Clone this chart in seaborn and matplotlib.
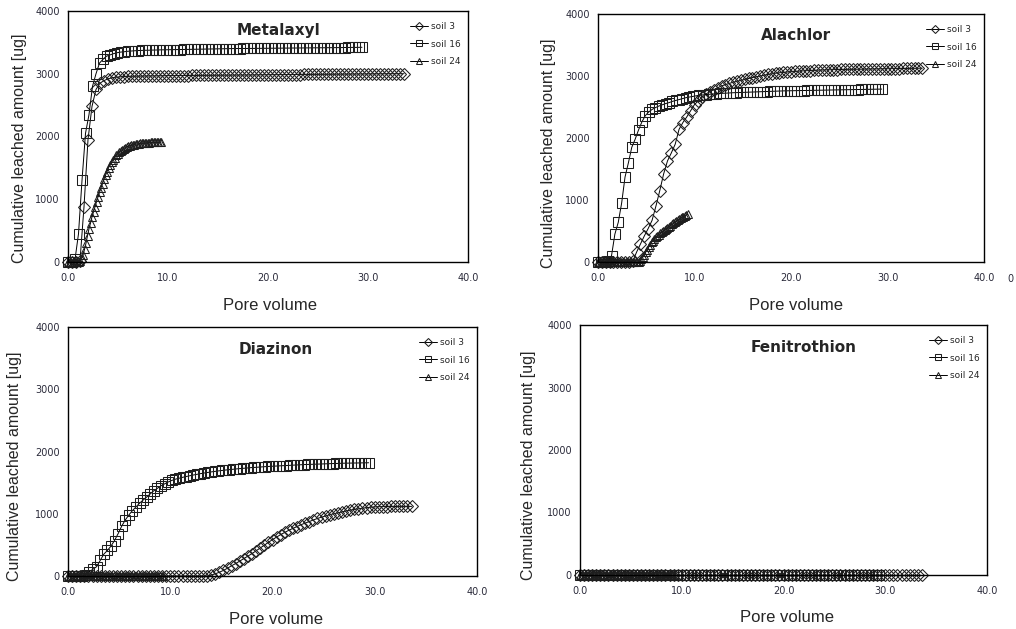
import matplotlib
matplotlib.use("Agg")
import matplotlib.pyplot as plt
import seaborn as sns

# pore volume of each leachate fraction
x_soil3 = [0.0, 0.4, 0.8, 1.2, 1.6, 2.0, 2.4, 2.8, 3.2, 3.6, 4.0, 4.4, 4.8, 5.2, 5.6, 6.0, 6.4, 6.8, 7.2, 7.6,
           8.0, 8.4, 8.8, 9.2, 9.6, 10.0, 10.4, 10.8, 11.2, 11.6, 12.0, 12.4, 12.8, 13.2, 13.6, 14.0, 14.4, 14.8,
           15.2, 15.6, 16.0, 16.4, 16.8, 17.2, 17.6, 18.0, 18.4, 18.8, 19.2, 19.6, 20.0, 20.4, 20.8, 21.2, 21.6,
           22.0, 22.4, 22.8, 23.2, 23.6, 24.0, 24.4, 24.8, 25.2, 25.6, 26.0, 26.4, 26.8, 27.2, 27.6, 28.0, 28.4,
           28.8, 29.2, 29.6, 30.0, 30.4, 30.8, 31.2, 31.6, 32.0, 32.4, 32.8, 33.2, 33.6]
x_soil16 = [0.0, 0.35, 0.7, 1.05, 1.4, 1.75, 2.1, 2.45, 2.8, 3.15, 3.5, 3.85, 4.2, 4.55, 4.9, 5.25, 5.6, 5.95,
            6.3, 6.65, 7.0, 7.35, 7.7, 8.05, 8.4, 8.75, 9.1, 9.45, 9.8, 10.15, 10.5, 10.85, 11.2, 11.55, 11.9,
            12.25, 12.6, 12.95, 13.3, 13.65, 14.0, 14.35, 14.7, 15.05, 15.4, 15.75, 16.1, 16.45, 16.8, 17.15,
            17.5, 17.85, 18.2, 18.55, 18.9, 19.25, 19.6, 19.95, 20.3, 20.65, 21.0, 21.35, 21.7, 22.05, 22.4,
            22.75, 23.1, 23.45, 23.8, 24.15, 24.5, 24.85, 25.2, 25.55, 25.9, 26.25, 26.6, 26.95, 27.3, 27.65,
            28.0, 28.35, 28.7, 29.05, 29.4]
x_soil24 = [0.0, 0.15, 0.3, 0.45, 0.6, 0.75, 0.9, 1.05, 1.2, 1.35, 1.5, 1.65, 1.8, 1.95, 2.1, 2.25, 2.4, 2.55,
            2.7, 2.85, 3.0, 3.15, 3.3, 3.45, 3.6, 3.75, 3.9, 4.05, 4.2, 4.35, 4.5, 4.65, 4.8, 4.95, 5.1, 5.25,
            5.4, 5.55, 5.7, 5.85, 6.0, 6.15, 6.3, 6.45, 6.6, 6.75, 6.9, 7.05, 7.2, 7.35, 7.5, 7.65, 7.8, 7.95,
            8.1, 8.25, 8.4, 8.55, 8.7, 8.85, 9.0, 9.15, 9.3]

# Metalaxyl
met_soil3 = [0, 0, 0, 20, 880, 1950, 2480, 2750, 2850, 2890, 2920, 2935, 2945, 2950, 2955, 2958,
             2960, 2961, 2962, 2963, 2964, 2965, 2966, 2967, 2968, 2970,
             2970, 2971, 2971, 2972, 2972, 2973, 2973, 2974, 2974, 2975, 2975, 2976, 2976, 2977, 2977, 2978,
             2978, 2979, 2979, 2980, 2980, 2981, 2982, 2983, 2984,
             2985, 2985, 2986, 2986, 2987, 2987, 2988, 2988, 2989, 2989, 2990, 2990, 2991, 2991, 2992, 2992,
             2993, 2993, 2994, 2994, 2995, 2995, 2996, 2996, 2997, 2997, 2998, 2998, 2999, 2999, 3000, 3000,
             3000, 3000]
met_soil16 = [0, 0, 40, 450, 1300, 2050, 2350, 2800, 3000, 3170, 3230, 3280, 3300, 3320, 3335, 3345, 3350,
              3358, 3362, 3366, 3370,
              3372, 3374, 3375, 3377, 3378, 3380, 3381, 3382, 3383, 3384, 3385, 3386, 3387, 3388, 3389, 3390,
              3391, 3392, 3393, 3394, 3395, 3396, 3397, 3398, 3399, 3400, 3401,
              3402, 3402, 3403, 3403, 3404, 3404, 3405, 3405, 3406, 3406, 3407, 3407, 3408, 3408, 3409, 3409,
              3410, 3410, 3411, 3411, 3412, 3412, 3413, 3413, 3414, 3414, 3415, 3415, 3416, 3416,
              3417, 3418, 3419, 3420, 3420, 3421, 3422]
met_soil24 = [0, 0, 0, 0, 0, 0, 0, 0, 20, 60, 110, 200, 300, 420, 530, 620, 720, 800, 880, 960, 1040, 1110,
              1180, 1250, 1320, 1380, 1440, 1500, 1550, 1590, 1630, 1665, 1700, 1725, 1750, 1770, 1790, 1805,
              1820, 1832, 1843, 1852, 1860, 1866, 1872, 1877, 1882, 1886, 1890, 1893, 1896, 1898, 1900, 1902,
              1904, 1905, 1906, 1907, 1908, 1909, 1910, 1910, 1910]

# Alachlor
ala_soil3 = [0, 0, 0, 0, 0, 0, 0, 0, 0, 10,
             160, 290, 420, 540, 670, 900, 1150, 1420, 1630, 1760, 1900, 2140, 2250, 2340, 2440, 2540, 2600,
             2660, 2710, 2750, 2780, 2810, 2840, 2860, 2880, 2900, 2915, 2930, 2945, 2960, 2975, 2988, 3000,
             3012, 3025, 3035, 3045, 3052, 3058, 3064, 3070, 3074, 3078, 3082, 3085, 3088, 3091, 3094, 3096,
             3098, 3100, 3102, 3104, 3105, 3106, 3107, 3108, 3109, 3110, 3111, 3112, 3113, 3114, 3115, 3116,
             3117, 3118, 3119, 3120, 3121, 3122, 3123, 3124, 3125, 3126]
ala_soil16 = [0, 0, 0, 20, 100, 450, 640, 950, 1370, 1600, 1850, 1980, 2130, 2260, 2360, 2420, 2460, 2490,
              2515, 2535, 2555, 2570, 2590, 2605, 2620, 2635, 2650, 2660, 2670, 2680, 2688, 2695, 2700, 2705,
              2710, 2714, 2718, 2721, 2724, 2727, 2730, 2732, 2734, 2736, 2738, 2740, 2742, 2744, 2746, 2748,
              2750, 2752, 2754, 2756, 2758, 2760, 2761, 2762, 2763, 2764, 2765, 2766, 2767, 2768, 2769, 2770,
              2771, 2772, 2773, 2774, 2775, 2776, 2777, 2778, 2779, 2780, 2781, 2782, 2783, 2784, 2785, 2786,
              2787, 2788, 2789]
ala_soil24 = [0, 0, 0, 0, 0, 0, 0, 0, 0, 0, 0, 0, 0, 0, 0, 0, 0, 0, 0, 0, 0, 0, 0, 0, 0, 0, 0, 0, 0,
              20, 50, 80, 120, 160, 200, 240, 280, 315, 345, 375, 400, 420, 440, 460, 480, 500, 518, 535, 552,
              570, 588, 605, 622, 640, 656, 672, 688, 703, 718, 732, 746, 758, 770]

# Diazinon
dia_soil3 = [0, 0, 0, 0, 0, 0, 0, 0, 0, 0, 0, 0, 0, 0, 0, 0, 0, 0, 0, 0, 0, 0, 0, 0, 0, 0, 0, 0, 0, 0,
             0, 0, 0, 0, 0,
             15, 35, 60, 90, 125, 165, 200, 240, 280, 320, 360, 405, 450, 495, 540, 585, 625, 665, 700, 735,
             765, 795, 825, 850, 875, 900, 925, 945, 965, 985, 1000, 1015, 1030, 1045, 1058, 1070, 1080, 1090,
             1098, 1105, 1110, 1113, 1115, 1116, 1117, 1117, 1118, 1118, 1118, 1118]
dia_soil16 = [0, 0, 0, 0, 0, 20, 70, 110, 150, 250, 350, 410, 480, 570, 680, 800, 900, 980, 1050, 1110, 1170,
              1220, 1270, 1320, 1370, 1410, 1450, 1480, 1510, 1535, 1555, 1570, 1585, 1598, 1610, 1622, 1633,
              1644, 1654, 1663, 1672, 1680, 1688, 1695, 1702, 1708, 1714, 1720, 1725, 1730, 1735, 1740, 1744,
              1748, 1752, 1756, 1760, 1763, 1766, 1769, 1772, 1775, 1778, 1781, 1784, 1787, 1790, 1792, 1794,
              1796, 1798, 1800, 1802, 1804, 1806, 1808, 1810, 1812, 1813, 1814, 1815, 1816, 1817, 1818, 1819]
dia_soil24 = [0, 0, 0, 0, 0, 0, 0, 0, 0, 0, 0, 0, 0, 0, 0, 0, 0, 0, 0, 0, 0, 0, 0, 0, 0, 0, 0, 0, 0, 0,
              0, 0, 0, 0, 0, 0, 0, 0, 0, 0, 0, 0, 0, 0, 0, 0, 0, 0, 0, 0, 0, 0, 0, 0, 0, 0, 0, 0, 0, 0,
              0, 0, 0]

# Fenitrothion (nothing leached)
fen_soil3 = [0, 0, 0, 0, 0, 0, 0, 0, 0, 0, 0, 0, 0, 0, 0, 0, 0, 0, 0, 0, 0, 0, 0, 0, 0, 0, 0, 0, 0, 0,
             0, 0, 0, 0, 0, 0, 0, 0, 0, 0, 0, 0, 0, 0, 0, 0, 0, 0, 0, 0, 0, 0, 0, 0, 0, 0, 0, 0, 0, 0,
             0, 0, 0, 0, 0, 0, 0, 0, 0, 0, 0, 0, 0, 0, 0, 0, 0, 0, 0, 0, 0, 0, 0, 0, 0]
fen_soil16 = [0, 0, 0, 0, 0, 0, 0, 0, 0, 0, 0, 0, 0, 0, 0, 0, 0, 0, 0, 0, 0, 0, 0, 0, 0, 0, 0, 0, 0, 0,
              0, 0, 0, 0, 0, 0, 0, 0, 0, 0, 0, 0, 0, 0, 0, 0, 0, 0, 0, 0, 0, 0, 0, 0, 0, 0, 0, 0, 0, 0,
              0, 0, 0, 0, 0, 0, 0, 0, 0, 0, 0, 0, 0, 0, 0, 0, 0, 0, 0, 0, 0, 0, 0, 0, 0]
fen_soil24 = [0, 0, 0, 0, 0, 0, 0, 0, 0, 0, 0, 0, 0, 0, 0, 0, 0, 0, 0, 0, 0, 0, 0, 0, 0, 0, 0, 0, 0, 0,
              0, 0, 0, 0, 0, 0, 0, 0, 0, 0, 0, 0, 0, 0, 0, 0, 0, 0, 0, 0, 0, 0, 0, 0, 0, 0, 0, 0, 0, 0,
              0, 0, 0]

pesticides = ["Metalaxyl", "Alachlor", "Diazinon", "Fenitrothion"]
soil_labels = ["soil 3", "soil 16", "soil 24"]
x_ticks = [0, 10, 20, 30, 40]
y_ticks = [0, 1000, 2000, 3000, 4000]

W, H = 1016, 629

# layout in pixels: axes box (left, top, right, bottom), title centre, ylabel centre x, xlabel centre
layout = [
    dict(box=(68, 11, 468, 262), title=(278, 31), ylab=(20, 148), xlab=(270, 305)),
    dict(box=(598, 14, 984, 262), title=(796, 36), ylab=(548, 153), xlab=(796, 305)),
    dict(box=(68, 327, 477, 576), title=(276, 350), ylab=(15, 466), xlab=(276, 619)),
    dict(box=(580, 325, 987, 575), title=(804, 347), ylab=(528, 465), xlab=(787, 617)),
]

sns.set_style("white")
plt.rcParams['font.family'] = ['Liberation Sans', 'DejaVu Sans']


def fx(x):
    return x / W


def fy(y):
    return 1 - y / H


def draw_panel(ax, title, lay, y3, y16, y24):
    style = dict(color="black", linewidth=0.7, markerfacecolor="none",
                 markeredgecolor="#1e1e1e", markeredgewidth=0.75, clip_on=False)
    sns.lineplot(x=x_soil3, y=y3, ax=ax, marker="D", markersize=6, label=soil_labels[0], **style)
    sns.lineplot(x=x_soil16, y=y16, ax=ax, marker="s", markersize=6.5, label=soil_labels[1], **style)
    sns.lineplot(x=x_soil24, y=y24, ax=ax, marker="^", markersize=6, label=soil_labels[2], **style)

    ax.set_xlim(0, 40)
    ax.set_ylim(0, 4000)
    ax.set_xticks(x_ticks)
    ax.set_xticklabels([f"{t:.1f}" for t in x_ticks], family="DejaVu Sans", fontsize=7, color="#2a2a3a")
    ax.set_yticks(y_ticks)
    ax.set_yticklabels([str(t) for t in y_ticks], family="DejaVu Sans", fontsize=7, color="#2a2a3a")
    ax.tick_params(direction="in", length=3.5, width=0.7, color="#666666")
    ax.tick_params(axis="x", pad=8)
    ax.tick_params(axis="y", pad=6)
    for sp in ax.spines.values():
        sp.set_visible(True)
        sp.set_color("black")
        sp.set_linewidth(1.0)

    ax.set_xlabel("Pore volume", fontsize=12, va="center")
    ax.xaxis.set_label_coords(fx(lay["xlab"][0]), fy(lay["xlab"][1]), transform=ax.figure.transFigure)
    ax.set_ylabel("Cumulative leached amount [ug]", fontsize=11.5, va="center")
    ax.yaxis.set_label_coords(fx(lay["ylab"][0]), fy(lay["ylab"][1]), transform=ax.figure.transFigure)

    ax.figure.text(fx(lay["title"][0]), fy(lay["title"][1]), title, ha="center", va="center",
                   fontsize=11, fontweight="bold", family="DejaVu Sans")

    ax.legend(loc="upper right", bbox_to_anchor=(1.0, 0.985), frameon=False,
              prop=dict(family="DejaVu Sans", size=6.5), markerscale=0.65,
              handlelength=2.0, handletextpad=0.3, labelspacing=0.95, borderaxespad=0.4)


fig = plt.figure(figsize=(W / 100, H / 100), dpi=100)

series = [
    (met_soil3, met_soil16, met_soil24),
    (ala_soil3, ala_soil16, ala_soil24),
    (dia_soil3, dia_soil16, dia_soil24),
    (fen_soil3, fen_soil16, fen_soil24),
]

for name, lay, ys in zip(pesticides, layout, series):
    l, t, r, b = lay["box"]
    ax = fig.add_axes([fx(l), fy(b), (r - l) / W, (b - t) / H])
    draw_panel(ax, name, lay, *ys)

# stray clipped tick label at the right edge of the Alachlor panel
fig.text(fx(1010), fy(279), "0", ha="center", va="center", fontsize=7, family="DejaVu Sans", color="#2a2a3a")

fig.savefig("out.png", dpi=100, facecolor="white")
